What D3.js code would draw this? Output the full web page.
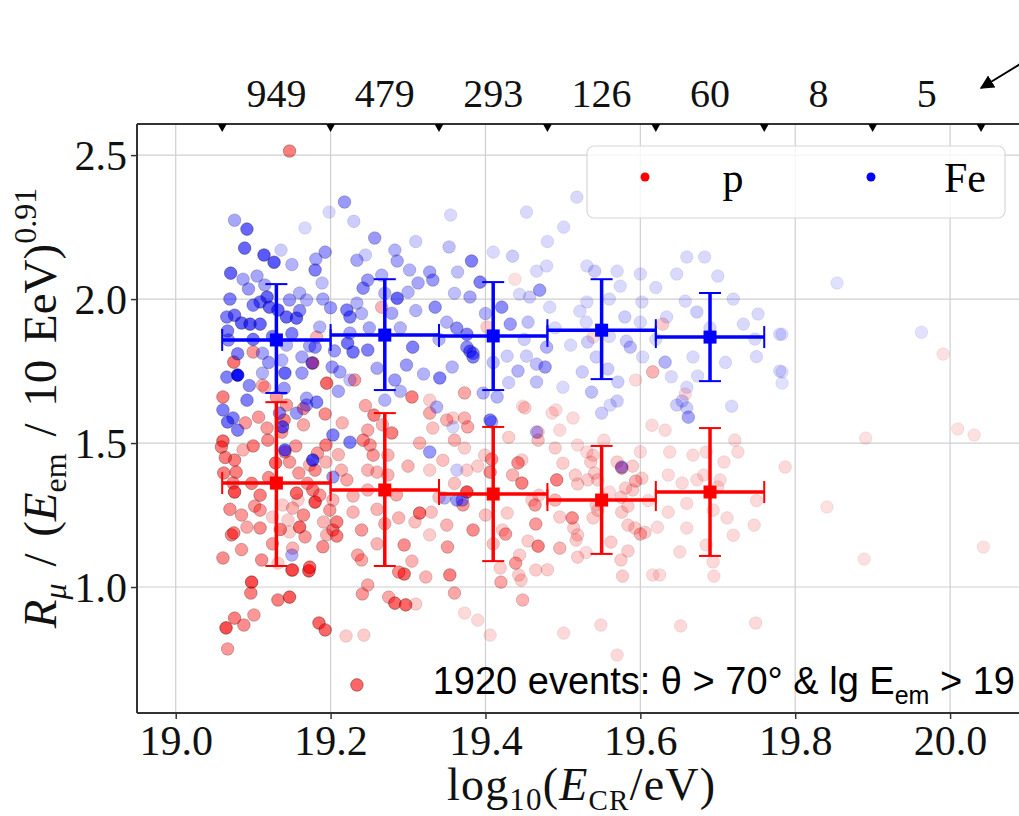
<!DOCTYPE html>
<html>
<head>
<meta charset="utf-8"/>
<script src="https://cdn.jsdelivr.net/npm/d3@7"></script>
<style>
  body { margin: 0; background: #fff; }
  text { font-family: "Liberation Serif", "DejaVu Serif", serif; }
</style>
</head>
<body>
<svg id="chart" width="1019" height="816"></svg>
<script>
// bins in log10(E_CR/eV)
var binEdges = [19.06, 19.20, 19.34, 19.48, 19.62, 19.76, 19.90, 20.04];
var binCounts = ["949", "479", "293", "126", "60", "8", "5"];
var meanCenters = [19.13, 19.27, 19.41, 19.55, 19.69];

// binned means with spread (proton / iron)
var pMean = [1.361, 1.337, 1.323, 1.302, 1.330];
var pLow  = [1.073, 1.073, 1.090, 1.115, 1.108];
var pHigh = [1.642, 1.604, 1.556, 1.490, 1.552];
var feMean = [1.858, 1.875, 1.872, 1.892, 1.868];
var feLow  = [1.674, 1.684, 1.684, 1.722, 1.715];
var feHigh = [2.052, 2.069, 2.059, 2.069, 2.021];

var xTicks = [19.0, 19.2, 19.4, 19.6, 19.8, 20.0];
var yTicks = [1.0, 1.5, 2.0, 2.5];

// events: [lgE, Rmu, weight]
var protonPts = [
 [19.098,1.017,.7],[19.097,0.979,.5],[19.132,0.955,.5],[19.147,0.965,.65],[19.076,0.892,.5],[19.065,0.858,.7],[19.088,0.868,.45],[19.101,0.903,.4],[19.067,0.785,.4],[19.185,0.875,.6],[19.193,0.851,.6],[19.15,1.059,.5],[19.172,1.056,.7],[19.22,0.83,.2],[19.243,0.833,.2],[19.234,0.66,.6],[19.241,0.976,.4],[19.248,1.007,.35],[19.275,0.965,.35],[19.283,0.944,.6],[19.297,0.938,.6],[19.31,0.941,.2],[19.295,1.045,.6],[19.323,1.035,.3],[19.354,1.042,.5],[19.36,0.979,.35],[19.373,0.91,.15],
 [19.39,0.885,.15],[19.406,0.833,.15],[19.501,0.84,.15],[19.549,0.868,.15],[19.57,0.764,.15],[19.652,0.865,.15],[19.749,0.875,.15],[19.448,0.955,.3],[19.446,1.024,.2],[19.42,1.017,.35],[19.439,1.083,.4],[19.465,1.059,.2],[19.468,1.142,.5],[19.496,1.135,.3],[19.519,1.104,.2],[19.517,1.163,.2],[19.577,1.038,.2],[19.584,1.125,.2],[19.575,1.094,.2],[19.616,1.042,.15],[19.625,1.042,.15],[19.651,1.122,.15],[19.695,1.038,.15],[19.694,1.087,.15],[19.685,1.146,.15],[19.747,1.215,.15],[19.712,1.24,.15],[19.66,1.205,.15],[19.636,1.26,.15],[19.622,1.208,.15],[19.606,1.19,.2],[19.6,1.184,.3],[19.593,1.205,.2],[19.584,1.215,.2],[19.576,1.26,.2],[19.575,1.312,.2],[19.581,1.344,.2],[19.59,1.337,.2],[19.594,1.368,.3],[19.602,1.378,.2],[19.539,1.24,.2],[19.545,1.267,.2],[19.519,1.181,.2],[19.512,1.24,.45],[19.514,1.205,.2],[19.496,1.243,.2],[19.469,1.319,.2],[19.492,1.372,.5],[19.49,1.302,.3],[19.519,1.358,.2],[19.516,1.389,.2],[19.532,1.372,.2],[19.536,1.434,.2],[19.539,1.458,.2],[19.541,1.396,.2],[19.57,1.434,.2],[19.576,1.413,.4],[19.59,1.42,.2],[19.553,1.51,.15],[19.519,1.493,.15],[19.531,1.469,.15],[19.636,1.389,.15],[19.638,1.469,.15],[19.654,1.361,.15],[19.673,1.372,.15],[19.682,1.389,.15],[19.668,1.458,.15],[19.685,1.469,.15],[19.708,1.434,.15],[19.722,1.51,.15],[19.726,1.469,.15],[19.703,1.372,.15],[19.7,1.347,.15],[19.787,1.417,.15],[19.694,1.267,.15],[19.632,1.545,.15],[19.615,1.562,.15],[19.486,1.604,.15],[19.513,1.587,.15],[19.448,1.628,.15],[19.491,1.615,.15],[19.468,1.51,.25],[19.447,1.441,.2],[19.442,1.431,.45],[19.435,1.389,.3],[19.447,1.361,.5],[19.46,1.302,.2],[19.465,1.219,.4],[19.428,1.257,.2],[19.422,1.198,.2],[19.426,1.184,.4],[19.384,1.198,.45],[19.376,1.33,.7],[19.371,1.285,.4],[19.39,1.42,.2],[19.406,1.399,.45],[19.408,1.444,.4],[19.377,1.556,.35],[19.373,1.483,.2],[19.399,1.458,.2],[19.468,1.538,.2],[19.451,1.622,.2],[19.545,1.372,.2],[19.543,1.285,.2],[19.562,1.156,.2],[19.584,1.281,.2],[19.464,1.285,.4],[19.49,1.483,.2],[19.496,1.545,.15],[19.444,1.111,.2],[19.419,1.066,.2],[19.443,1.042,.2],
 [19.061,1.66,.5],[19.107,1.59,.4],[19.14,1.58,.5],[19.143,1.632,.4],[19.165,1.563,.35],[19.193,1.601,.45],[19.194,1.493,.5],[19.183,1.465,.4],[19.18,1.406,.45],[19.18,1.295,.7],[19.177,1.337,.5],[19.173,1.424,.3],[19.159,1.396,.4],[19.147,1.434,.4],[19.129,1.431,.6],[19.119,1.51,.45],[19.118,1.552,.4],[19.137,1.538,.4],[19.141,1.469,.45],[19.061,1.507,.6],[19.059,1.486,.5],[19.076,1.441,.5],[19.078,1.399,.5],[19.062,1.396,.5],[19.074,1.361,.45],[19.076,1.33,.7],[19.109,1.319,.5],[19.102,1.281,.4],[19.109,1.267,.4],[19.092,1.208,.35],[19.072,1.181,.5],[19.075,1.188,.5],[19.109,1.205,.45],[19.111,1.094,.45],[19.061,1.101,.45],[19.125,1.243,.2],[19.138,1.285,.2],[19.145,1.233,.2],[19.151,1.274,.3],[19.158,1.302,.2],[19.147,1.191,.2],[19.156,1.326,.6],[19.16,1.208,.6],[19.167,1.174,.4],[19.151,1.135,.3],[19.173,1.069,.6],[19.151,1.059,.45],[19.132,1.083,.2],[19.194,1.434,.3],[19.186,1.319,.4],[19.199,1.267,.4],[19.191,1.226,.3],[19.203,1.198,.5],[19.208,1.177,.5],[19.208,1.226,.5],[19.195,1.181,.3],[19.203,1.302,.3],[19.221,1.372,.35],[19.214,1.406,.3],[19.229,1.316,.3],[19.229,1.26,.3],[19.24,1.198,.4],[19.235,1.111,.35],[19.24,1.094,.35],[19.248,1.337,.3],[19.248,1.406,.3],[19.251,1.493,.4],[19.242,1.51,.45],[19.248,1.545,.35],[19.256,1.597,.5],[19.267,1.563,.3],[19.255,1.458,.4],[19.26,1.399,.3],[19.279,1.535,.5],[19.274,1.458,.3],[19.274,1.389,.3],[19.288,1.24,.3],[19.295,1.146,.45],[19.288,1.052,.45],[19.305,1.66,.5],[19.309,1.226,.25],[19.315,1.257,.6],[19.328,1.406,.2],[19.328,1.181,.2],[19.34,1.312,.25],[19.35,1.215,.3],[19.351,1.139,.4],[19.376,1.406,.2],[19.373,1.587,.3],[19.36,1.51,.3],[19.35,1.58,.3],[19.332,1.552,.25],[19.328,1.604,.35],
 [19.075,1.781,.55],[19.1,1.816,.4],[19.087,1.476,.3],[19.115,1.694,.3],[19.177,1.778,.6],[19.195,1.708,.6],[19.112,1.701,.3],[19.231,1.719,.4],[19.266,1.972,.3],[19.328,1.649,.2],[19.373,1.674,.35],[19.358,1.587,.2],[19.182,1.868,.3],
 [19.991,1.809,.12],[20.01,1.549,.12],[20.031,1.528,.12],[19.891,1.517,.12],[19.841,1.278,.12],[19.889,1.097,.12],[20.043,1.139,.12],
 [19.147,2.514,.5],
 [19.438,2.069,.12],[19.402,1.903,.2],[19.594,1.719,.15],[19.616,1.747,.3],[19.629,1.913,.2],[19.658,1.67,.15],[19.539,1.868,.15],
 [19.064,1.45,.5],[19.07,1.27,.45],[19.085,1.25,.4],[19.098,1.36,.5],[19.12,1.38,.45],[19.125,1.15,.4],[19.135,1.2,.5],[19.165,1.25,.45],[19.17,1.36,.4],[19.19,1.14,.45],[19.085,1.13,.4],[19.1,1.49,.5],[19.155,1.49,.4],[19.165,1.62,.45],[19.09,1.57,.4],[19.13,1.66,.4],[19.21,1.46,.3],[19.26,1.27,.3],[19.27,1.22,.35],[19.285,1.32,.35],[19.3,1.42,.3],[19.315,1.5,.3],[19.26,1.15,.3],[19.305,1.09,.3],[19.33,1.26,.25],[19.345,1.44,.25],[19.36,1.36,.25],[19.245,1.63,.35],[19.215,1.57,.3],[19.4,1.25,.25],[19.41,1.15,.25],[19.455,1.16,.2],[19.43,1.52,.2],[19.5,1.43,.2],[19.56,1.33,.15],[19.61,1.3,.15],[19.66,1.29,.15],[19.72,1.18,.15],[19.75,1.3,.15],[19.53,1.12,.15],[19.6,1.47,.15],[19.48,1.06,.2]
];

var ironPts = [
 [19.076,2.274,.35],[19.092,2.243,.6],[19.089,2.177,.6],[19.114,2.153,.65],[19.127,2.128,.65],[19.136,2.17,.2],[19.167,2.247,.15],[19.198,2.302,.15],[19.218,2.337,.4],[19.193,2.163,.4],[19.181,2.139,.35],[19.257,2.212,.4],[19.283,2.17,.3],[19.286,2.132,.35],[19.245,2.153,.2],[19.355,2.292,.15],[19.353,2.181,.25],[19.382,2.132,.5],
 [19.071,2.09,.6],[19.087,2.069,.35],[19.105,2.08,.35],[19.094,2.035,.4],[19.115,2.049,.35],[19.118,2.007,.6],[19.109,1.99,.55],[19.121,1.972,.6],[19.1,1.979,.5],[19.076,1.944,.55],[19.085,1.917,.6],[19.096,1.913,.65],[19.109,1.913,.6],[19.066,1.938,.5],[19.067,1.889,.5],[19.068,1.858,.45],[19.132,1.962,.6],[19.143,1.938,.6],[19.156,1.934,.6],[19.147,1.997,.4],[19.16,2.021,.3],[19.169,1.997,.3],[19.18,2.101,.5],[19.189,2.056,.25],[19.186,1.903,.3],[19.173,1.837,.35],[19.18,1.833,.45],[19.143,1.84,.3],[19.163,1.799,.35],[19.176,1.778,.45],[19.163,1.743,.4],[19.137,1.788,.3],[19.141,1.743,.6],[19.112,1.812,.35],[19.112,1.743,.3],[19.08,1.736,.95],[19.066,1.729,.5],[19.092,1.649,.5],[19.074,1.587,.5],[19.08,1.545,.5],[19.134,1.604,.45],[19.169,1.656,.35],[19.182,1.642,.5],[19.156,1.604,.4],[19.202,1.764,.4],[19.212,1.747,.35],[19.225,1.719,.25],[19.229,1.816,.55],[19.222,1.847,.55],[19.221,1.962,.5],[19.225,1.938,.5],[19.234,1.986,.3],[19.242,2.038,.45],[19.248,2.066,.4],[19.234,2.135,.35],[19.302,2.101,.3],[19.266,2.083,.3],[19.286,2.003,.6],[19.3,2.024,.3],[19.313,2.056,.35],[19.328,2.094,.35],[19.332,2.066,.4],[19.335,1.972,.45],[19.364,2.094,.25],[19.38,2.007,.35],[19.363,1.899,.45],[19.376,1.833,.45],[19.384,1.812,.45],[19.357,1.764,.3],[19.341,1.726,.5],[19.306,1.833,.5],[19.298,1.771,.4],[19.283,1.719,.4],[19.248,1.823,.5],[19.225,1.882,.35],[19.279,1.951,.35],[19.27,1.649,.3],[19.337,1.625,.3],[19.358,1.556,.15],
 [19.393,2.059,.5],[19.421,1.972,.45],[19.432,1.913,.4],[19.47,2.031,.4],[19.477,1.764,.4],[19.466,1.774,.25],[19.453,1.802,.2],[19.442,1.75,.3],[19.428,1.802,.2],[19.453,2.302,.15],[19.518,2.354,.15],[19.501,2.25,.15],[19.41,2.163,.15],[19.435,2.149,.2],[19.466,2.097,.15],[19.479,2.115,.15],[19.457,2.007,.2],[19.444,2.017,.15],[19.483,1.972,.15],[19.479,1.833,.3],[19.455,1.92,.25],[19.531,2.115,.15],[19.541,2.097,.2],[19.57,2.097,.15],[19.574,2.045,.15],[19.6,2.087,.15],[19.531,1.99,.15],[19.522,1.958,.15],[19.58,1.938,.2],[19.602,1.99,.15],[19.532,1.851,.2],[19.543,1.799,.2],[19.558,1.757,.2],[19.571,1.712,.2],[19.582,1.854,.2],[19.587,1.833,.25],[19.525,1.747,.2],[19.5,1.694,.15],[19.537,1.677,.25],[19.57,1.646,.2],[19.603,1.799,.15],[19.632,1.781,.3],[19.647,2.087,.15],[19.66,2.146,.15],[19.683,2.146,.15],[19.658,1.993,.15],[19.673,1.955,.2],[19.634,1.938,.15],[19.668,1.799,.15],[19.674,1.733,.15],[19.66,1.694,.15],[19.654,1.646,.2],[19.718,1.628,.15],[19.733,1.913,.15],[19.752,1.948,.15],[19.748,1.861,.15],[19.78,1.878,.15],[19.78,1.75,.15],[19.466,1.712,.25],[19.415,1.66,.3],[19.376,1.878,.5],[19.38,1.819,.5],[19.384,1.799,.5],
 [19.061,1.615,.5],[19.067,1.573,.55],[19.169,1.632,.4],[19.138,1.556,.6],[19.141,1.476,.6],[19.177,1.441,.7],[19.203,1.382,.4],[19.203,1.528,.5],[19.225,1.503,.5],[19.328,1.469,.4],[19.15,1.111,.3],[19.347,1.309,.3],[19.363,1.302,.4],[19.408,1.573,.3],[19.397,1.674,.3],[19.363,1.406,.2],
 [19.406,1.58,.5],[19.466,1.538,.3],[19.55,1.604,.2],[19.561,1.632,.15],[19.576,1.417,.35],[19.647,1.632,.2],[19.66,1.622,.2],[19.662,1.59,.35],[19.37,1.302,.4],
 [19.854,2.056,.12],[19.963,1.885,.12],[19.783,1.878,.12],[19.783,1.747,.12],[19.783,1.708,.12],
 [19.07,2.0,.5],[19.08,1.81,.5],[19.1,1.86,.55],[19.125,1.87,.5],[19.15,1.88,.5],[19.16,1.96,.45],[19.2,1.97,.4],[19.205,1.82,.4],[19.19,2.0,.35],[19.12,1.78,.4],[19.095,1.7,.45],[19.14,1.69,.4],[19.21,1.68,.35],[19.25,1.9,.35],[19.26,1.76,.35],[19.29,1.9,.3],[19.31,1.96,.3],[19.32,1.74,.3],[19.34,1.86,.3],[19.35,1.92,.3],[19.27,2.02,.3],[19.24,1.95,.3],[19.29,1.68,.3],[19.36,2.02,.25],[19.4,1.95,.3],[19.41,1.78,.25],[19.43,1.71,.2],[19.45,1.86,.2],[19.49,1.9,.15],[19.51,1.84,.15],[19.53,1.92,.15],[19.56,1.87,.15],[19.6,1.92,.15],[19.62,1.86,.15],[19.64,1.73,.15],[19.69,1.9,.15],[19.71,1.78,.15],[19.72,2.0,.15],[19.75,1.8,.15],[19.56,2.0,.15],[19.48,2.2,.15],[19.62,2.04,.15],[19.7,2.08,.15],[19.31,2.2,.2],[19.23,2.27,.2],[19.15,2.12,.3]
];

(function() {
var svg = d3.select("#chart");
var left = 137, right = 1043, plotTop = 124, plotBottom = 713;

var x = d3.scaleLinear().domain([18.95, 20.12]).range([left, right]);
var y = d3.scaleLinear().domain([0.5625, 2.608]).range([plotBottom, plotTop]);

// grid
var grid = svg.append("g");
grid.selectAll(".gx").data(xTicks).enter().append("line")
    .attr("x1", function(d) { return x(d); }).attr("x2", function(d) { return x(d); })
    .attr("y1", plotTop).attr("y2", plotBottom)
    .attr("stroke", "#cfcfcf").attr("stroke-width", 1.2);
grid.selectAll(".gy").data(yTicks).enter().append("line")
    .attr("x1", left).attr("x2", right)
    .attr("y1", function(d) { return y(d); }).attr("y2", function(d) { return y(d); })
    .attr("stroke", "#cfcfcf").attr("stroke-width", 1.2);

// scatter, proton first then iron
function drawPoints(pts, col) {
    svg.append("g").selectAll("circle")
        .data(pts)
        .enter().append("circle")
        .attr("cx", function(d) { return x(d[0]); })
        .attr("cy", function(d) { return y(d[1]); })
        .attr("r", 6.3)
        .attr("fill", col)
        .attr("fill-opacity", function(d) { return d[2]; })
        .attr("stroke", "#000")
        .attr("stroke-opacity", function(d) { return d[2] * 0.55; })
        .attr("stroke-width", 1);
}
drawPoints(protonPts, "#ff0000");
drawPoints(ironPts, "#0000ff");

// binned means with error bars
function drawBars(mean, lo, hi, col) {
    var g = svg.append("g").attr("stroke", col).attr("fill", col);
    meanCenters.forEach(function(c, i) {
        var x0 = x(binEdges[i]), x1 = x(binEdges[i + 1]), xc = x(c);
        var ym = y(mean[i]);
        g.append("line").attr("x1", x0).attr("x2", x1).attr("y1", ym).attr("y2", ym).attr("stroke-width", 3.5);
        g.append("line").attr("x1", xc).attr("x2", xc).attr("y1", y(lo[i])).attr("y2", y(hi[i])).attr("stroke-width", 3.5);
        [x0, x1].forEach(function(xx) {
            g.append("line").attr("x1", xx).attr("x2", xx).attr("y1", ym - 11).attr("y2", ym + 11).attr("stroke-width", 2);
        });
        [lo[i], hi[i]].forEach(function(v) {
            g.append("line").attr("x1", xc - 11).attr("x2", xc + 11).attr("y1", y(v)).attr("y2", y(v)).attr("stroke-width", 2);
        });
        g.append("rect").attr("x", xc - 6.5).attr("y", ym - 6.5).attr("width", 13).attr("height", 13).attr("stroke", "none");
    });
}
drawBars(feMean, feLow, feHigh, "#0000ff");
drawBars(pMean, pLow, pHigh, "#ff0000");

// axes
var yAxis = d3.axisLeft(y).tickValues(yTicks).tickFormat(d3.format(".1f")).tickSize(6).tickPadding(4);
var xAxis = d3.axisBottom(x).tickValues(xTicks).tickFormat(d3.format(".1f")).tickSize(6).tickPadding(2);
var gy = svg.append("g").attr("transform", "translate(" + left + ",0)").call(yAxis);
var gx = svg.append("g").attr("transform", "translate(0," + plotBottom + ")").call(xAxis);
[gx, gy].forEach(function(g) {
    g.select(".domain").remove();
    g.selectAll(".tick line").attr("stroke", "#333").attr("stroke-width", 1.5);
    g.selectAll(".tick text").attr("fill", "#111")
        .style("font-family", "'Liberation Serif', serif").style("font-size", "42px");
});
gx.selectAll(".tick text").attr("dy", "0.8em");
gy.selectAll(".tick text").attr("dy", "0.34em");

// spines
svg.append("line").attr("x1", left).attr("x2", left).attr("y1", plotTop).attr("y2", plotBottom).attr("stroke", "#333").attr("stroke-width", 2);
svg.append("line").attr("x1", left).attr("x2", right).attr("y1", plotBottom).attr("y2", plotBottom).attr("stroke", "#333").attr("stroke-width", 2);
svg.append("line").attr("x1", left).attr("x2", right).attr("y1", plotTop).attr("y2", plotTop).attr("stroke", "#333").attr("stroke-width", 2);

// top bin edge markers and counts
svg.append("g").selectAll("path").data(binEdges).enter().append("path")
    .attr("d", function(d) { var px = x(d); return "M" + (px - 4.5) + "," + plotTop + "L" + (px + 4.5) + "," + plotTop + "L" + px + "," + (plotTop + 8) + "Z"; })
    .attr("fill", "#000");
svg.append("g").selectAll("text").data(binCounts).enter().append("text")
    .attr("x", function(d, i) { return x((binEdges[i] + binEdges[i + 1]) / 2); })
    .attr("y", 107)
    .attr("text-anchor", "middle")
    .style("font-size", "40px").attr("fill", "#111")
    .text(function(d) { return d; });

// legend
var leg = svg.append("g");
leg.append("rect").attr("x", 587).attr("y", 146).attr("width", 418).attr("height", 72).attr("rx", 7)
    .attr("fill", "#fff").attr("fill-opacity", 0.8).attr("stroke", "#d8d8d8").attr("stroke-width", 1.2);
leg.append("circle").attr("cx", 645).attr("cy", 177).attr("r", 4.5).attr("fill", "#ff0000");
leg.append("circle").attr("cx", 871).attr("cy", 177).attr("r", 4.5).attr("fill", "#0000ff");
leg.append("text").attr("x", 733).attr("y", 192).attr("text-anchor", "middle").style("font-size", "42px").text("p");
leg.append("text").attr("x", 965).attr("y", 192).attr("text-anchor", "middle").style("font-size", "42px").text("Fe");

// annotation
var ann = svg.append("text").attr("x", 1015).attr("y", 694).attr("text-anchor", "end")
    .style("font-family", "'Liberation Sans', Arial, sans-serif").style("font-size", "38px").attr("fill", "#000");
ann.append("tspan").text("1920 events: θ > 70° & lg E");
ann.append("tspan").attr("dy", 10).style("font-size", "25px").text("em");
ann.append("tspan").attr("dy", -10).text(" > 19");

// axis labels
var xl = svg.append("text").attr("x", 447).attr("y", 800).attr("textLength", 268).attr("lengthAdjust", "spacing")
    .style("font-size", "46px").attr("fill", "#111");
xl.append("tspan").text("log");
xl.append("tspan").attr("dy", 10).style("font-size", "31px").text("10");
xl.append("tspan").attr("dy", -10).text("(");
xl.append("tspan").style("font-style", "italic").text("E");
xl.append("tspan").attr("dy", 10).style("font-size", "29px").text("CR");
xl.append("tspan").attr("dy", -10).text("/eV)");

var yl = svg.append("text").attr("transform", "translate(56,408) rotate(-90)").attr("text-anchor", "middle")
    .style("font-size", "47px").style("word-spacing", "5px").attr("fill", "#111");
yl.append("tspan").style("font-style", "italic").text("R");
yl.append("tspan").attr("dy", 10).style("font-size", "32px").style("font-style", "italic").text("μ");
yl.append("tspan").attr("dy", -10).text(" / (");
yl.append("tspan").style("font-style", "italic").text("E");
yl.append("tspan").attr("dy", 10).style("font-size", "32px").text("em");
yl.append("tspan").attr("dy", -10).text(" / 10 EeV)");
yl.append("tspan").attr("dy", -20).style("font-size", "32px").text("0.91");

// arrow at top right
svg.append("defs").append("marker").attr("id", "ah").attr("viewBox", "0 0 10 10")
    .attr("refX", 9).attr("refY", 5).attr("markerWidth", 7).attr("markerHeight", 7).attr("orient", "auto")
    .append("path").attr("d", "M0,0L10,5L0,10Z").attr("fill", "#000");
svg.append("line").attr("x1", 1030).attr("y1", 58).attr("x2", 981).attr("y2", 88)
    .attr("stroke", "#000").attr("stroke-width", 2).attr("marker-end", "url(#ah)");
})();
</script>
</body>
</html>
